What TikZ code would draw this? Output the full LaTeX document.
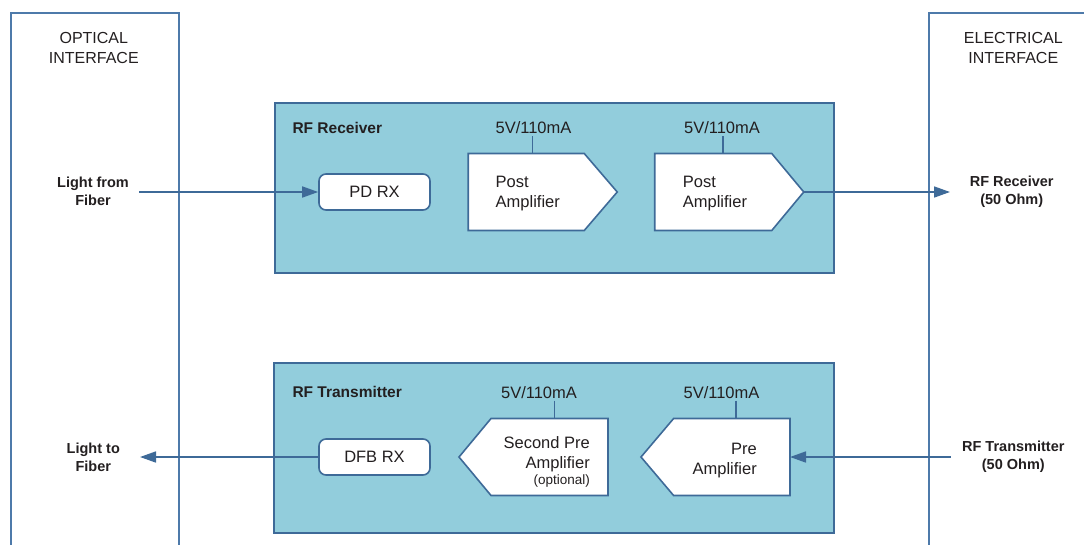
\documentclass[tikz,border=0pt]{standalone}
\usepackage{fontspec}
\setmainfont{Liberation Sans}
\usetikzlibrary{arrows.meta}
\definecolor{boxfill}{HTML}{92CDDC}
\definecolor{boxline}{HTML}{3E6A98}
\definecolor{ifline}{HTML}{4E7AAA}
\definecolor{txt}{HTML}{231F20}
\begin{document}
\begin{tikzpicture}[x=1pt,y=-1pt,
  txtnode/.style={text=txt, inner sep=0pt, font=\fontsize{16.5}{20}\selectfont},
  iftitle/.style={text=txt, inner sep=0pt, align=center, font=\fontsize{16}{20}\selectfont},
  iolabel/.style={text=txt, inner sep=0pt, align=center, font=\fontsize{14.5}{18}\selectfont\bfseries},
  grouptitle/.style={text=txt, inner sep=0pt, anchor=west, font=\fontsize{15.5}{18}\selectfont\bfseries},
  groupbox/.style={draw=boxline, line width=2pt, fill=boxfill, inner sep=0pt, outer sep=0pt},
  blockbox/.style={draw=boxline, line width=1.6pt, fill=white, rounded corners=7pt, inner sep=0pt,
    minimum width=111pt, minimum height=36pt, text=txt, font=\fontsize{16.5}{20}\selectfont},
  ampgeom/.style={inner sep=0pt, outer sep=0pt, minimum width=149pt, minimum height=77pt},
  ampshape/.style={draw=boxline, line width=1.6pt, fill=white, line join=miter},
  ifborder/.style={draw=ifline, line width=1.7pt},
  conn/.style={draw=boxline, line width=1.7pt, -{Triangle[length=16pt,width=11pt]}},
  supply/.style={draw=boxline, line width=1.8pt},
  volt/.style={text=txt, inner sep=2pt, font=\fontsize{16.5}{20}\selectfont}
]
\useasboundingbox (0,0) rectangle (1084,544);

% interface frames
\draw[ifborder] (11,546) -- (11,12.7) -- (179.3,12.7) -- (179.3,546);
\draw[ifborder] (929.3,546) -- (929.3,12.7) -- (1086,12.7);
\node[iftitle] (optt) at (93.8,48.3) {OPTICAL\\INTERFACE};
\node[iftitle] (elet) at (1013.3,48.2) {ELECTRICAL\\INTERFACE};

% group boxes
\node[groupbox, minimum width=559pt, minimum height=170pt] (rxgrp) at (554,188) {};
\node[groupbox, minimum width=560pt, minimum height=170pt] (txgrp) at (554,448.3) {};
\node[grouptitle] (rxt) at (292.3,127.8) {RF Receiver};
\node[grouptitle] (txt) at (292.3,392) {RF Transmitter};

% receiver chain
\node[blockbox] (pdrx) at (374.5,192) {PD RX};
\node[ampgeom] (amp1) at (542.75,192) {};
\draw[ampshape] (amp1.north west) -- ([xshift=-33pt]amp1.north east) -- (amp1.east)
  -- ([xshift=-33pt]amp1.south east) -- (amp1.south west) -- cycle;
\node[txtnode, align=left, anchor=west] (amp1t) at (495.5,193.5) {Post\\Amplifier};
\node[ampgeom] (amp2) at (729.25,192) {};
\draw[ampshape] (amp2.north west) -- ([xshift=-32pt]amp2.north east) -- (amp2.east)
  -- ([xshift=-32pt]amp2.south east) -- (amp2.south west) -- cycle;
\node[txtnode, align=left, anchor=west] (amp2t) at (682.7,193.5) {Post\\Amplifier};
\node[volt] (v1) at (533.5,128) {5V/110mA};
\node[volt] (v2) at (722,128) {5V/110mA};
\draw[supply] ([xshift=-1pt]v1.south) -- ([xshift=-1pt]v1.south |- amp1.north);
\draw[supply] ([xshift=1pt]v2.south) -- ([xshift=1pt]v2.south |- amp2.north);

% transmitter chain
\node[blockbox] (dfbrx) at (374.5,457) {DFB RX};
\node[ampgeom] (amp3) at (533.5,457) {};
\draw[ampshape] (amp3.north east) -- ([xshift=32pt]amp3.north west) -- (amp3.west)
  -- ([xshift=32pt]amp3.south west) -- (amp3.south east) -- cycle;
\node[txtnode, align=right, anchor=north east] (amp3t) at (590,436)
  {Second Pre\\Amplifier\\[-4pt]{\fontsize{13.5}{16}\selectfont(optional)}};
\node[ampgeom] (amp4) at (715.5,457) {};
\draw[ampshape] (amp4.north east) -- ([xshift=32.6pt]amp4.north west) -- (amp4.west)
  -- ([xshift=32.6pt]amp4.south west) -- (amp4.south east) -- cycle;
\node[txtnode, align=right, anchor=east] (amp4t) at (757,460.5) {Pre\\Amplifier};
\node[volt] (v3) at (539,392.3) {5V/110mA};
\node[volt] (v4) at (721.5,392.3) {5V/110mA};
\draw[supply] ([xshift=15.5pt]v3.south) -- ([xshift=15.5pt]v3.south |- amp3.north);
\draw[supply] ([xshift=14.5pt]v4.south) -- ([xshift=14.5pt]v4.south |- amp4.north);

% side labels
\node[iolabel] (lfrom) at (93,191.5) {Light from\\Fiber};
\node[iolabel] (lto) at (93.3,457) {Light to\\Fiber};
\node[iolabel] (rfrx) at (1011.7,191.5) {RF Receiver\\(50 Ohm)};
\node[iolabel] (rftx) at (1013.3,457) {RF Transmitter\\(50 Ohm)};

% connectors
\coordinate (lfend) at (139.3,192);
\coordinate (ltend) at (140,457);
\coordinate (rxend) at (950,192);
\coordinate (txstart) at (950.7,457);
\draw[conn] (lfend) -- (pdrx.west);
\draw[conn] (amp2.east) -- (amp2.east -| rxend);
\draw[conn] (txstart) -- (amp4.east);
\draw[conn] (dfbrx.west) -- (dfbrx.west -| ltend);
\end{tikzpicture}
\end{document}
